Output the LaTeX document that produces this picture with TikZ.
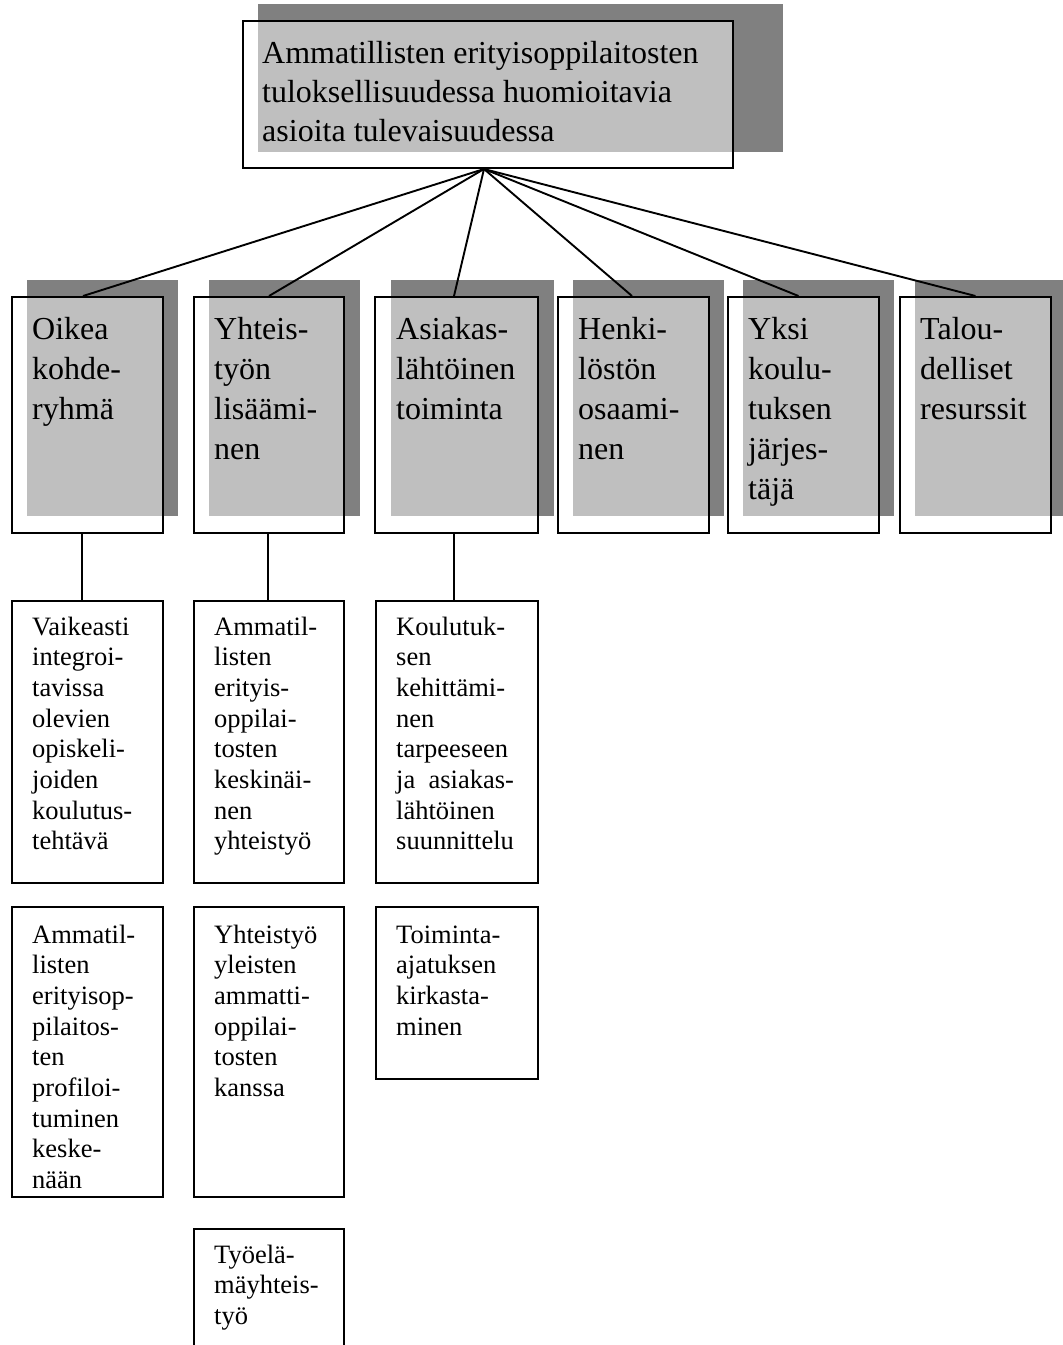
\documentclass[tikz,border=0pt]{standalone}
\usepackage{fontspec}
\setmainfont{Liberation Serif}
\definecolor{shade}{RGB}{128,128,128}
\tikzset{
  shadowbox/.style={fill=shade, draw=none},
  frame/.style={draw=black, line width=2pt, fill=white, fill opacity=0.5,
                anchor=north west, inner sep=0pt},
  plainbox/.style={draw=black, line width=2pt, fill=white,
                anchor=north west, inner sep=0pt},
  link/.style={draw=black, line width=1.9pt},
  label/.style={anchor=base west, inner sep=0pt},
}
% multi-line labels: first baseline sits on the node's base anchor
\newcommand{\bigtext}[1]{\parbox[t]{400pt}{\fontsize{32}{40}\selectfont\raggedright #1}}
\newcommand{\headtext}[1]{\parbox[t]{500pt}{\fontsize{32}{39}\selectfont\raggedright #1}}
\newcommand{\smalltext}[1]{\parbox[t]{300pt}{\fontsize{26.5}{30.7}\selectfont\raggedright #1}}
\begin{document}
\begin{tikzpicture}[x=1pt,y=-1pt]
\clip (0,0) rectangle (1063,1345);
\fill[white] (0,0) rectangle (1063,1345);

% shadows
\fill[shadowbox] (258,4) rectangle (783,152);
\foreach \x in {27,209,391,573,743,915} {
  \fill[shadowbox] (\x,280) rectangle ++(151,236);
}
\fill[shadowbox] (391,280) rectangle ++(163,236);

% title box and main themes
\node[frame, minimum width=490pt, minimum height=147pt] (top) at (242,20) {};
\node[frame, minimum width=151pt, minimum height=236pt] (k1) at (11,296) {};
\node[frame, minimum width=150pt, minimum height=236pt] (k2) at (193,296) {};
\node[frame, minimum width=163pt, minimum height=236pt] (k3) at (374,296) {};
\node[frame, minimum width=151pt, minimum height=236pt] (k4) at (557,296) {};
\node[frame, minimum width=151pt, minimum height=236pt] (k5) at (727,296) {};
\node[frame, minimum width=151pt, minimum height=236pt] (k6) at (899,296) {};

% sub-items
\node[plainbox, minimum width=151pt, minimum height=282pt] (s1) at (11,600) {};
\node[plainbox, minimum width=150pt, minimum height=282pt] (s2) at (193,600) {};
\node[plainbox, minimum width=162pt, minimum height=282pt] (s3) at (375,600) {};
\node[plainbox, minimum width=151pt, minimum height=290pt] (u1) at (11,906) {};
\node[plainbox, minimum width=150pt, minimum height=290pt] (u2) at (193,906) {};
\node[plainbox, minimum width=162pt, minimum height=172pt] (u3) at (375,906) {};
\node[plainbox, minimum width=150pt, minimum height=160pt] (v2) at (193,1228) {};

% connectors
\coordinate (hub) at ([xshift=-4pt]top.south);
\draw[link] (hub) -- ([xshift=-4.5pt]k1.north);
\draw[link] (hub) -- (k2.north);
\draw[link] (hub) -- ([xshift=-2.5pt]k3.north);
\draw[link] (hub) -- ([xshift=-1.5pt]k4.north);
\draw[link] (hub) -- ([xshift=-5pt]k5.north);
\draw[link] (hub) -- (k6.north);
\draw[link] ([xshift=-5.5pt]k1.south) -- ([xshift=-5.5pt]s1.north);
\draw[link] ([xshift=-1pt]k2.south) -- ([xshift=-1pt]s2.north);
\draw[link] ([xshift=-2.5pt]k3.south) -- ([xshift=-3pt]s3.north);

% texts
\node[label] (topt) at (262,63) {\headtext{Ammatillisten erityisoppilaitosten\\tuloksellisuudessa huomioitavia\\asioita tulevaisuudessa}};
\node[label] (k1t) at (32,339) {\bigtext{Oikea\\kohde-\\ryhmä}};
\node[label] (k2t) at (214,339) {\bigtext{Yhteis-\\työn\\lisäämi-\\nen}};
\node[label] (k3t) at (396,339) {\bigtext{Asiakas-\\lähtöinen\\toiminta}};
\node[label] (k4t) at (578,339) {\bigtext{Henki-\\löstön\\osaami-\\nen}};
\node[label] (k5t) at (748,339) {\bigtext{Yksi\\koulu-\\tuksen\\järjes-\\täjä}};
\node[label] (k6t) at (920,339) {\bigtext{Talou-\\delliset\\resurssit}};

\node[label] (s1t) at (32,635) {\smalltext{Vaikeasti\\integroi-\\tavissa\\olevien\\opiskeli-\\joiden\\koulutus-\\tehtävä}};
\node[label] (s2t) at (214,635) {\smalltext{Ammatil-\\listen\\erityis-\\oppilai-\\tosten\\keskinäi-\\nen\\yhteistyö}};
\node[label] (s3t) at (396,635) {\smalltext{Koulutuk-\\sen\\kehittämi-\\nen\\tarpeeseen\\ja\ \ asiakas-\\lähtöinen\\suunnittelu}};

\node[label] (u1t) at (32,943) {\smalltext{Ammatil-\\listen\\erityisop-\\pilaitos-\\ten\\profiloi-\\tuminen\\keske-\\nään}};
\node[label] (u2t) at (214,943) {\smalltext{Yhteistyö\\yleisten\\ammatti-\\oppilai-\\tosten\\kanssa}};
\node[label] (u3t) at (396,943) {\smalltext{Toiminta-\\ajatuksen\\kirkasta-\\minen}};
\node[label] (v2t) at (214,1263) {\smalltext{Työelä-\\mäyhteis-\\työ}};
\end{tikzpicture}
\end{document}
